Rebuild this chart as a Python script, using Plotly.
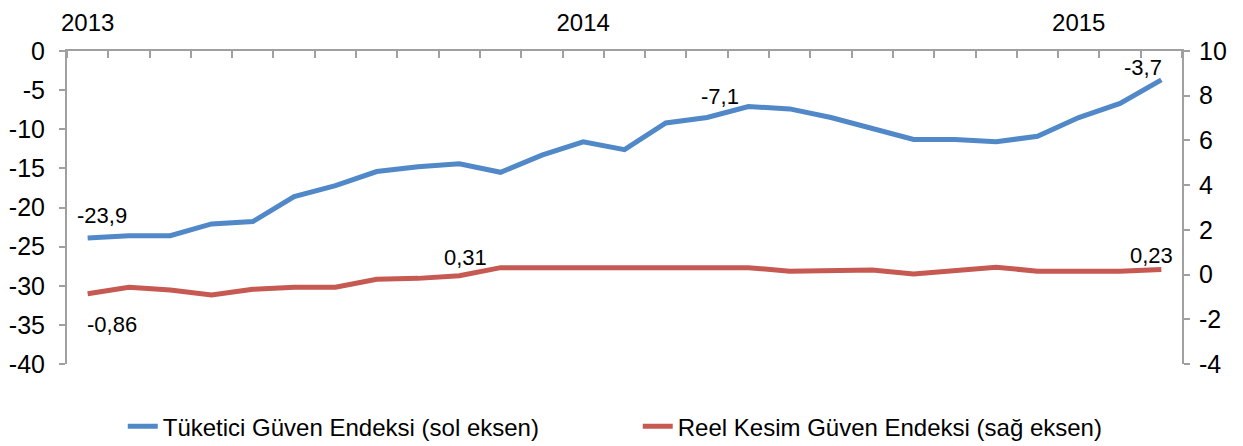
import plotly.graph_objects as go

# Monthly data, 2013-01 .. 2015-03
months = list(range(27))
year_positions = [0, 12, 24]
year_labels = ["2013", "2014", "2015"]

left_ticks = [0, -5, -10, -15, -20, -25, -30, -35, -40]
left_tick_labels = ["0", "-5", "-10", "-15", "-20", "-25", "-30", "-35", "-40"]
right_ticks = [10, 8, 6, 4, 2, 0, -2, -4]
right_tick_labels = ["10", "8", "6", "4", "2", "0", "-2", "-4"]

tuketici = [-23.9, -23.6, -23.6, -22.1, -21.8, -18.6, -17.2, -15.4, -14.8, -14.4,
            -15.5, -13.3, -11.6, -12.6, -9.2, -8.5, -7.1, -7.4, -8.5, -9.9,
            -11.3, -11.3, -11.6, -10.9, -8.5, -6.7, -3.7]
reel = [-0.86, -0.57, -0.69, -0.91, -0.66, -0.57, -0.57, -0.21, -0.17, -0.05,
        0.31, 0.31, 0.31, 0.31, 0.31, 0.31, 0.31, 0.15, 0.17, 0.20,
        0.03, 0.17, 0.33, 0.15, 0.15, 0.15, 0.23]

name_t = "Tüketici Güven Endeksi (sol eksen)"
name_r = "Reel Kesim Güven Endeksi (sağ eksen)"

BLUE = "#5088C8"
RED = "#C65952"
GRAY = "#A0A0A0"
FONT = "Liberation Sans, Arial, sans-serif"

fig = go.Figure()
fig.add_trace(go.Scatter(x=months, y=tuketici, mode="lines", name=name_t,
                         line=dict(color=BLUE, width=5), yaxis="y"))
fig.add_trace(go.Scatter(x=months, y=reel, mode="lines", name=name_r,
                         line=dict(color=RED, width=5), yaxis="y2"))

# data labels
labels = [
    (0, tuketici[0], "y", "-23,9", 14, 23),
    (16, tuketici[16], "y", "-7,1", -28, 10),
    (26, tuketici[26], "y", "-3,7", -18, 12),
    (0, reel[0], "y2", "-0,86", 24, -31),
    (10, reel[10], "y2", "0,31", -35, 10),
    (26, reel[26], "y2", "0,23", -10, 14),
]
for xi, yv, yr, txt, dx, dy in labels:
    fig.add_annotation(x=xi, y=yv, xref="x", yref=yr, text=txt, showarrow=False,
                       xshift=dx, yshift=dy, font=dict(size=22, color="black", family=FONT))

# page body has an 8px margin, so the figure is drawn 8px smaller and offset
fig.update_layout(
    width=1235, height=438,
    margin=dict(l=59, r=61, t=43, b=82, autoexpand=False),
    paper_bgcolor="white", plot_bgcolor="white",
    font=dict(family=FONT, size=25, color="black"),
    showlegend=True,
    legend=dict(orientation="h", x=0.05, xanchor="left", y=-0.128, yanchor="top",
                font=dict(size=24, family=FONT), entrywidth=470, entrywidthmode="pixels",
                tracegroupgap=0, bgcolor="rgba(0,0,0,0)"),
    xaxis=dict(
        side="top", range=[-0.5, 26.5], showgrid=False, zeroline=False,
        showline=True, linecolor=GRAY, linewidth=2, automargin=False,
        tickmode="array", tickvals=year_positions, ticktext=year_labels,
        ticks="", ticklabelstandoff=8, tickfont=dict(size=24),
        minor=dict(tickmode="array", tickvals=[m - 0.5 for m in months] + [26.5],
                   ticks="inside", ticklen=7, tickcolor=GRAY, tickwidth=2),
        fixedrange=True,
    ),
    yaxis=dict(
        range=[-40, 0], tickmode="array", tickvals=left_ticks, ticktext=left_tick_labels,
        showgrid=False, zeroline=False,
        showline=True, linecolor=GRAY, linewidth=2, automargin=False,
        ticks="outside", ticklen=6, tickcolor=GRAY, tickwidth=2,
        ticklabelstandoff=9,
    ),
    yaxis2=dict(
        range=[-4, 10], tickmode="array", tickvals=right_ticks, ticktext=right_tick_labels,
        overlaying="y", side="right",
        showgrid=False, zeroline=False, automargin=False,
        showline=True, linecolor=GRAY, linewidth=2,
        ticks="outside", ticklen=6, tickcolor=GRAY, tickwidth=2,
        ticklabelstandoff=4,
    ),
)

fig.write_html("out.html")
